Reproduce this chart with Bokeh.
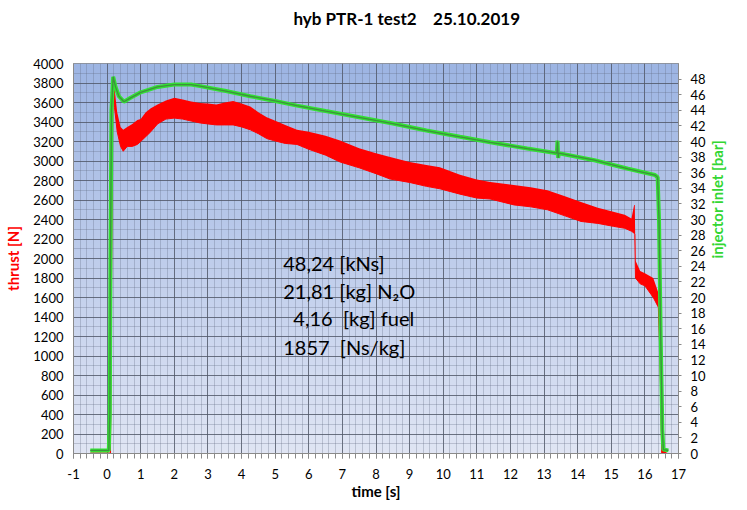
import math
import numpy as np
from bokeh.plotting import figure
from bokeh.models import Range1d, LinearAxis, SingleIntervalTicker, FixedTicker, Label, Title
from bokeh.embed import file_html
from bokeh.resources import INLINE

# ---------------- data ----------------
title_text = "hyb PTR-1 test2\u00a0\u00a0\u00a0\u00a025.10.2019"
x_label = "time [s]"
y_label = "thrust [N]"
y2_label = "injector inlet [bar]"
y2_ticks = list(range(0, 49, 2))

# thrust trace: time [s], lower / upper envelope of the noisy signal [N]
thrust_t = [-0.5, 0.10, 0.14, 0.17, 0.22, 0.30, 0.40, 0.48, 0.60, 0.75, 0.90,
            1.00, 1.15, 1.30, 1.50, 1.75, 2.00, 2.25, 2.50, 2.77, 3.00, 3.25,
            3.50, 3.75, 4.00, 4.26, 4.50, 4.75, 4.95, 5.30, 5.65, 6.00, 6.50,
            6.93, 7.50, 8.00, 8.42, 9.00, 9.50, 9.90, 10.50, 11.00, 11.40,
            12.10, 12.60, 13.10, 13.60, 14.10, 14.60, 15.06, 15.40, 15.60,
            15.68, 15.70, 15.72, 15.86, 16.00, 16.25, 16.40, 16.45, 16.50, 16.65]
thrust_lo = [0, 0, 2200, 3700, 3550, 3300, 3150, 3100, 3150, 3150, 3170,
             3200, 3250, 3300, 3380, 3430, 3440, 3430, 3410, 3390, 3380, 3370,
             3370, 3370, 3350, 3320, 3280, 3230, 3210, 3180, 3170, 3120, 3060,
             2990, 2930, 2870, 2815, 2780, 2740, 2715, 2660, 2620, 2610,
             2550, 2530, 2500, 2440, 2380, 2360, 2330, 2310, 2280,
             2260, 2250, 1800, 1740, 1720, 1600, 1500, 1000, 0, 0]
thrust_hi = [10, 10, 2300, 3820, 3750, 3500, 3350, 3320, 3350, 3380, 3420,
             3430, 3500, 3540, 3580, 3620, 3650, 3630, 3610, 3595, 3590, 3580,
             3600, 3615, 3590, 3560, 3500, 3450, 3420, 3370, 3320, 3300, 3260,
             3210, 3130, 3080, 3040, 2990, 2960, 2935, 2860, 2810, 2785,
             2755, 2730, 2700, 2640, 2580, 2520, 2480, 2450, 2410,
             2550, 2550, 1980, 1873, 1850, 1800, 1650, 1200, 50, 10]

# injector inlet pressure: time [s], pressure [bar]
press_t = [-0.5, 0.05, 0.08, 0.10, 0.13, 0.18, 0.25, 0.35, 0.50, 0.70, 1.00,
           1.50, 2.00, 2.50, 2.77, 3.50, 4.26, 5.00, 5.65, 6.50, 7.50, 8.50,
           9.50, 10.50, 11.40, 12.50, 13.38, 13.40, 13.42, 13.44, 14.50,
           15.50, 16.30, 16.38, 16.42, 16.47, 16.52, 16.55, 16.70]
press_bar = [0.4, 0.4, 5.0, 25.0, 44.0, 48.3, 47.0, 45.8, 45.1, 45.6, 46.3,
             47.0, 47.3, 47.3, 47.1, 46.5, 45.8, 45.2, 44.6, 43.9, 43.1, 42.3,
             41.4, 40.6, 39.9, 39.1, 38.5, 40.1, 37.9, 38.5, 37.6,
             36.5, 35.7, 35.4, 30.0, 15.0, 3.0, 0.5, 0.4]

info_lines = ["48,24 [kNs]", "21,81 [kg] N\u2082O",
              "4,16\u00a0\u00a0[kg] fuel", "1857\u00a0\u00a0[Ns/kg]"]

# ---------------- figure ----------------
FONT = "Lato"
p = figure(width=739, height=502, x_range=Range1d(-1, 17), y_range=Range1d(0, 4000),
           output_backend="svg", toolbar_location=None, title=None,
           min_border_left=73, min_border_right=61, min_border_top=60, min_border_bottom=47)
p.background_fill_color = "#c0cdea"
p.border_fill_color = "white"
p.outline_line_color = "#8a8a8a"

# title (spacer first = closest to the frame, then the title above it)
p.add_layout(Title(text=" ", text_font_size="20px", standoff=6), "above")
p.add_layout(Title(text=title_text, align="left", offset=220, text_font=FONT,
                   text_font_style="bold", text_font_size="17px", text_color="black"), "above")

# gradient background of the plotting area (decoration)
top = np.array([157, 181, 227], dtype=float)
bot = np.array([224, 229, 244], dtype=float)
n = 200
frac = np.linspace(0, 1, n)[:, None]
cols = (bot * (1 - frac) + top * frac).astype(np.uint8)
img = np.zeros((n, 1), dtype=np.uint32)
view = img.view(dtype=np.uint8).reshape((n, 1, 4))
view[:, 0, 0] = cols[:, 0]
view[:, 0, 1] = cols[:, 1]
view[:, 0, 2] = cols[:, 2]
view[:, 0, 3] = 255
p.image_rgba(image=[img], x=-1, y=0, dw=18, dh=4000, level="image")

# grids
p.xaxis.ticker = SingleIntervalTicker(interval=1, num_minor_ticks=5)
p.yaxis.ticker = SingleIntervalTicker(interval=200, num_minor_ticks=2)
for g in (p.xgrid, p.ygrid):
    g.grid_line_color = "#4f5666"
    g.grid_line_alpha = 0.75
    g.minor_grid_line_color = "#5f6a82"
    g.minor_grid_line_alpha = 0.3

# data
p.varea(x=thrust_t, y1=thrust_lo, y2=thrust_hi, fill_color="#ff0000")
p.line(x=thrust_t, y=thrust_lo, line_color="#ff0000", line_width=1)
p.extra_y_ranges = {"bar": Range1d(0, 50)}
p.line(x=press_t, y=press_bar, y_range_name="bar", line_color="#33e033", line_width=4)
p.line(x=press_t, y=press_bar, y_range_name="bar", line_color="#3f8f3f", line_width=1.3)

# axes
xa = p.xaxis[0]
xa.axis_label = x_label
xa.axis_label_text_font = FONT
xa.axis_label_text_font_style = "bold"
xa.axis_label_text_font_size = "15px"
xa.axis_label_text_color = "black"
xa.axis_label_standoff = 0
xa.major_label_text_font = FONT
xa.major_label_text_font_size = "13px"
xa.major_label_text_color = "black"
xa.major_label_standoff = 10
xa.major_label_overrides = {-1: "-1"}
xa.axis_line_color = "#8a8a8a"
xa.major_tick_line_color = "#8a8a8a"
xa.minor_tick_line_color = "#8a8a8a"
xa.major_tick_in = 0
xa.major_tick_out = 5
xa.minor_tick_in = 0
xa.minor_tick_out = 5

ya = p.yaxis[0]
ya.axis_label = y_label
ya.axis_label_text_font = FONT
ya.axis_label_text_font_style = "bold"
ya.axis_label_text_font_size = "15px"
ya.axis_label_text_color = "#ff0000"
ya.axis_label_standoff = 8
ya.major_label_text_font = FONT
ya.major_label_text_font_size = "13px"
ya.major_label_text_color = "black"
ya.major_label_standoff = 10
ya.axis_line_color = "#8a8a8a"
ya.major_tick_line_color = None
ya.minor_tick_line_color = None
ya.major_tick_in = 0
ya.major_tick_out = 0
ya.minor_tick_in = 0
ya.minor_tick_out = 0

ax2 = LinearAxis(y_range_name="bar", ticker=FixedTicker(ticks=y2_ticks), axis_label=y2_label)
ax2.axis_label_text_font = FONT
ax2.axis_label_text_font_style = "bold"
ax2.axis_label_text_font_size = "15px"
ax2.axis_label_text_color = "#33d633"
ax2.axis_label_standoff = 8
ax2.axis_label_orientation = math.pi / 2
ax2.major_label_text_font = FONT
ax2.major_label_text_font_size = "13px"
ax2.major_label_text_color = "black"
ax2.major_label_standoff = 9
ax2.axis_line_color = "#8a8a8a"
ax2.major_tick_line_color = "#8a8a8a"
ax2.major_tick_in = 0
ax2.major_tick_out = 3
ax2.minor_tick_line_color = None
ax2.minor_tick_out = 0
p.add_layout(ax2, "right")

# info text block
info_x = [5.24, 5.24, 5.54, 5.24]
info_y = [1954, 1671, 1387, 1094]
for tx, xx, yy in zip(info_lines, info_x, info_y):
    p.add_layout(Label(x=xx, y=yy, text=tx, text_align="left", text_baseline="middle",
                       text_font=FONT, text_font_size="20px", text_color="black"))

open("out.html", "w").write(file_html(p, INLINE))
